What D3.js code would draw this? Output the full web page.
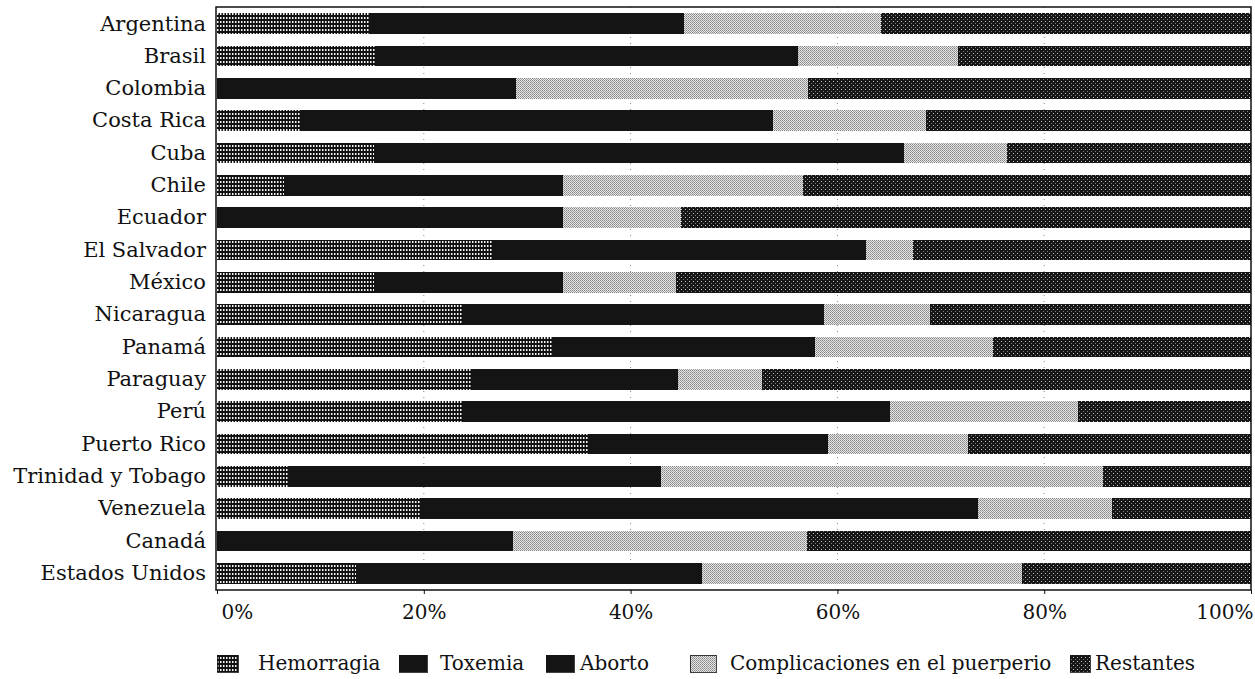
<!DOCTYPE html>
<html><head><meta charset="utf-8">
<script src="https://cdn.jsdelivr.net/npm/d3@7"></script>
<style>
html,body{margin:0;padding:0;background:#fff;}
svg{display:block;}
</style></head>
<body>
<svg id="chart" width="1255" height="679"></svg>
<script>
const countries = ["Argentina","Brasil","Colombia","Costa Rica","Cuba","Chile","Ecuador","El Salvador","México","Nicaragua","Panamá","Paraguay","Perú","Puerto Rico","Trinidad y Tobago","Venezuela","Canadá","Estados Unidos"];
const seriesNames = ["Hemorragia","Toxemia","Aborto","Complicaciones en el puerperio","Restantes"];
const hemorragia = [14.7,15.3,0,8.0,15.2,6.5,0,26.7,15.2,23.8,32.4,24.6,23.8,35.9,6.9,19.7,0,13.4];
const toxemia    = [9.0,27.5,18.2,31.0,20.5,9.5,21.0,26.0,12.0,22.5,16.8,9.3,28.1,15.4,20.2,36.0,20.1,23.4];
const aborto     = [21.5,13.4,10.7,14.8,30.7,17.5,12.5,10.1,6.3,12.4,8.6,10.7,13.2,7.8,15.8,17.9,8.5,10.1];
const complicaciones = [19.0,15.5,28.3,14.8,10.0,23.2,11.4,4.5,10.9,10.3,17.2,8.1,18.2,13.5,42.8,13.0,28.5,31.0];
const restantes  = [35.8,28.3,42.8,31.4,23.6,43.3,55.1,32.7,55.6,31.0,25.0,47.3,16.7,27.4,14.3,13.4,42.9,22.1];
const xTicks = [0,0.2,0.4,0.6,0.8,1];

const seriesArrays = [hemorragia,toxemia,aborto,complicaciones,restantes];
const table = countries.map((c,i)=>{
  const row = {country:c};
  seriesNames.forEach((s,j)=>row[s]=seriesArrays[j][i]/100);
  return row;
});

const svg = d3.select("#chart");
const mLeft = 217, mRight = 1251, mTop = 7, mBottom = 590;
const FONT = "'DejaVu Serif', serif";

// patterns
const defs = svg.append("defs");
const pHem = defs.append("pattern").attr("id","pHem").attr("patternUnits","userSpaceOnUse").attr("width",3).attr("height",4);
pHem.append("rect").attr("width",3).attr("height",4).attr("fill","#111");
pHem.append("rect").attr("x",1).attr("y",1).attr("width",1.5).attr("height",2).attr("fill","#f4f4f4");
const pComp = defs.append("pattern").attr("id","pComp").attr("patternUnits","userSpaceOnUse").attr("width",2).attr("height",2);
pComp.append("rect").attr("width",2).attr("height",2).attr("fill","#e6e6e6");
pComp.append("rect").attr("x",0).attr("y",0).attr("width",1).attr("height",1).attr("fill","#858585");
pComp.append("rect").attr("x",1).attr("y",1).attr("width",1).attr("height",1).attr("fill","#a0a0a0");
const pRest = defs.append("pattern").attr("id","pRest").attr("patternUnits","userSpaceOnUse").attr("width",4).attr("height",4);
pRest.append("rect").attr("width",4).attr("height",4).attr("fill","#151515");
pRest.append("rect").attr("x",1).attr("y",1).attr("width",1).attr("height",1).attr("fill","#c8c8c8");
pRest.append("rect").attr("x",3).attr("y",3).attr("width",1).attr("height",1).attr("fill","#808080");

const fills = {"Hemorragia":"url(#pHem)","Toxemia":"#141414","Aborto":"#141414","Complicaciones en el puerperio":"url(#pComp)","Restantes":"url(#pRest)"};

const x = d3.scaleLinear().domain([0,1]).range([mLeft,mRight]);
const y = d3.scaleBand().domain(countries).range([mTop,mBottom]).paddingInner(0.36).paddingOuter(0.2);

// gridlines
svg.append("g").selectAll("line").data(xTicks.slice(1,-1)).join("line")
  .attr("x1",d=>x(d)).attr("x2",d=>x(d)).attr("y1",mTop).attr("y2",mBottom)
  .attr("stroke","#888").attr("stroke-width",1).attr("stroke-dasharray","1,5");

const stack = d3.stack().keys(seriesNames);
const layers = stack(table);
svg.append("g").attr("shape-rendering","crispEdges").selectAll("g").data(layers).join("g")
  .attr("fill",d=>fills[d.key])
  .selectAll("rect").data(d=>d).join("rect")
  .attr("x",d=>x(d[0])).attr("width",d=>Math.max(0,x(d[1])-x(d[0])))
  .attr("y",d=>y(d.data.country)).attr("height",y.bandwidth());

// frame
svg.append("rect").attr("x",mLeft-1).attr("y",mTop).attr("width",mRight-mLeft+1).attr("height",mBottom-mTop)
  .attr("fill","none").attr("stroke","#111").attr("stroke-width",1.5);

// y axis
const ya = svg.append("g").attr("transform",`translate(${mLeft-1},0)`)
  .call(d3.axisLeft(y).tickSize(0).tickPadding(10));
ya.select(".domain").remove();
ya.selectAll("text").attr("font-family",FONT).attr("font-size",21).attr("fill","#111");

// x axis
const xa = svg.append("g").attr("transform",`translate(0,${mBottom})`)
  .call(d3.axisBottom(x).tickValues(xTicks).tickFormat(d3.format(".0%")).tickSize(4).tickPadding(11));
xa.select(".domain").remove();
xa.selectAll("line").attr("stroke","#111");
xa.selectAll("text").attr("font-family",FONT).attr("font-size",20).attr("fill","#111")
  .attr("text-anchor",(d,i)=> i===0 ? "start" : (i===xTicks.length-1 ? "end" : "middle"))
  .attr("dx",(d,i)=> i===0 ? 4 : (i===xTicks.length-1 ? 2 : 0));

// legend
const legX = [217,399,546,690,1070];
const legW = [21,28,28,26,20];
const legTX = [258,440,580,730,1095];
const leg = svg.append("g");
seriesNames.forEach((s,i)=>{
  leg.append("rect").attr("x",legX[i]).attr("y",655).attr("width",legW[i]).attr("height",17)
    .attr("fill",fills[s]).attr("stroke","#111").attr("stroke-width",0.8).attr("shape-rendering","crispEdges");
  leg.append("text").attr("x",legTX[i]).attr("y",670).text(s)
    .attr("font-family",FONT).attr("font-size",20).attr("fill","#111");
});
</script>
</body></html>
